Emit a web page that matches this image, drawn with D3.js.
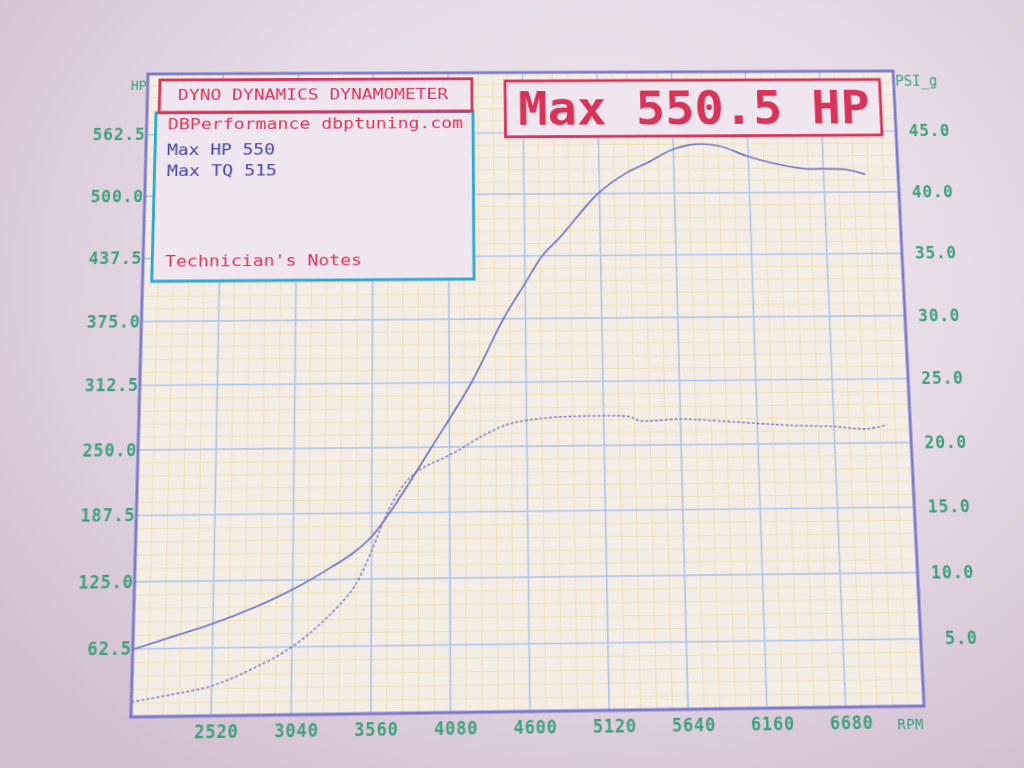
<!DOCTYPE html>
<html><head><meta charset="utf-8">
<script src="https://cdn.jsdelivr.net/npm/d3@7"></script>
<style>
html,body{margin:0;padding:0;width:1024px;height:768px;overflow:hidden;}
body{background: radial-gradient(ellipse 72% 78% at 58% 36%, #ede7f0 0%, #e6dbe6 50%, #d2c0d1 100%);}
#chart{position:absolute;left:0;top:0;transform-origin:0 0;filter:blur(0.5px);}
text{font-family:"DejaVu Sans Mono","Liberation Mono",monospace;}
</style></head><body>
<svg id="chart" width="1024" height="768"></svg>
<script>
// ---------------- data ----------------
const hpRpm    = [2000,2260,2520,2780,3040,3300,3440,3560,3680,3960,4230,4450,4600,4720,4850,5110,5300,5480,5640,5800,5960,6160,6330,6560,6680,6840,6970];
const hpValues = [62,73.5,85,99,116,137,150,165,187.5,250,312.5,375,410,437.5,457,500,520,533,545,550,548,537,530,524,524,523,518];
const boostRpm = [2000,2260,2520,2780,3040,3300,3450,3570,3640,3714,3808,3916,4030,4134,4233,4347,4470,4600,4750,5000,5300,5360,5640,5800,6160,6430,6680,6900,7040];
const boostPsi = [1.1,1.6,2.2,3.4,5.0,7.5,9.5,12.4,14.4,16.1,17.6,18.5,19.1,19.7,20.4,21.1,21.7,22.0,22.2,22.3,22.2,21.9,22.0,21.9,21.6,21.4,21.3,21.1,21.4];
const rpmTicks = [2520,3040,3560,4080,4600,5120,5640,6160,6680];
const hpTicks  = [62.5,125,187.5,250,312.5,375,437.5,500,562.5];
const psiTicks = [5,10,15,20,25,30,35,40,45];
const titleText = "DYNO DYNAMICS DYNAMOMETER";
const maxText = "Max 550.5 HP";
const infoLines = ["DBPerformance dbptuning.com","Max HP 550","Max TQ 515"];
const notesText = "Technician's Notes";

// ---------------- perspective (photo) ----------------
const X0=131, X1=924, Y0=72, Y1=717, W=X1-X0, H=Y1-Y0;
const quad=[[148,74],[893,71],[924,706],[131,717]];
function squareToQuad(q){
  const [x0,y0]=q[0],[x1,y1]=q[1],[x2,y2]=q[2],[x3,y3]=q[3];
  const dx1=x1-x2,dx2=x3-x2,dx3=x0-x1+x2-x3, dy1=y1-y2,dy2=y3-y2,dy3=y0-y1+y2-y3;
  const den=dx1*dy2-dx2*dy1, g=(dx3*dy2-dx2*dy3)/den, h=(dx1*dy3-dx3*dy1)/den;
  return [[x1-x0+g*x1,x3-x0+h*x3,x0],[y1-y0+g*y1,y3-y0+h*y3,y0],[g,h,1]];
}
function mul(A,B){return A.map((r,i)=>[0,1,2].map(j=>r[0]*B[0][j]+r[1]*B[1][j]+r[2]*B[2][j]));}
function inv(m){
  const [a,b,c]=m[0],[d,e,f]=m[1],[g,h,i]=m[2];
  const A=e*i-f*h,B=-(d*i-f*g),C=d*h-e*g, det=a*A+b*B+c*C;
  return [[A/det,-(b*i-c*h)/det,(b*f-c*e)/det],[B/det,(a*i-c*g)/det,-(a*f-c*d)/det],[C/det,-(a*h-b*g)/det,(a*e-b*d)/det]];
}
const M=mul(squareToQuad(quad),[[1/W,0,-X0/W],[0,1/H,-Y0/H],[0,0,1]]);
const Mi=inv(M);
function ap(m,x,y){const w=m[2][0]*x+m[2][1]*y+m[2][2];return [(m[0][0]*x+m[0][1]*y+m[0][2])/w,(m[1][0]*x+m[1][1]*y+m[1][2])/w];}
const P=(x,y)=>ap(Mi,x,y); // photo position -> flat drawing position
document.getElementById("chart").style.transform=
  `matrix3d(${M[0][0]},${M[1][0]},0,${M[2][0]},${M[0][1]},${M[1][1]},0,${M[2][1]},0,0,1,0,${M[0][2]},${M[1][2]},0,${M[2][2]})`;

// ---------------- chart ----------------
const svg=d3.select("#chart");
const x=d3.scaleLinear().domain([2000,7200]).range([X0,X1]);
const yHP=d3.scaleLinear().domain([0,625]).range([Y1,Y0]);
const yPsi=d3.scaleLinear().domain([0,50]).range([Y1,Y0]);

const green="#3f9f7d", red="#d8345a", blue="#4646a8", frame="#7c7acb", curveCol="#6f74c2";

svg.append("rect").attr("x",X0).attr("y",Y0).attr("width",W).attr("height",H).attr("fill","#f4ede6");
const minorX=d3.range(2000,7200.1,104), minorY=d3.range(0,625.1,12.5);
const g=svg.append("g");
g.selectAll(".mx").data(minorX).join("line").attr("x1",d=>x(d)).attr("x2",d=>x(d)).attr("y1",Y0).attr("y2",Y1)
  .attr("stroke","#efe0b4").attr("stroke-width",1);
g.selectAll(".my").data(minorY).join("line").attr("y1",d=>yHP(d)).attr("y2",d=>yHP(d)).attr("x1",X0).attr("x2",X1)
  .attr("stroke","#efe0b4").attr("stroke-width",1);
g.selectAll(".gx").data(rpmTicks).join("line").attr("x1",d=>x(d)).attr("x2",d=>x(d)).attr("y1",Y0).attr("y2",Y1)
  .attr("stroke","#adc5ee").attr("stroke-width",1.6);
g.selectAll(".gy").data(hpTicks).join("line").attr("y1",d=>yHP(d)).attr("y2",d=>yHP(d)).attr("x1",X0).attr("x2",X1)
  .attr("stroke","#adc5ee").attr("stroke-width",1.6);

// curves
svg.append("clipPath").attr("id","clip").append("rect").attr("x",X0).attr("y",Y0).attr("width",W).attr("height",H);
const hpData=hpRpm.map((r,i)=>[r,hpValues[i]]), boostData=boostRpm.map((r,i)=>[r,boostPsi[i]]);
svg.append("path").datum(boostData).attr("clip-path","url(#clip)")
  .attr("d",d3.line().x(d=>x(d[0])).y(d=>yPsi(d[1])).curve(d3.curveCatmullRom.alpha(0.5)))
  .attr("fill","none").attr("stroke",curveCol).attr("stroke-width",1.6).attr("stroke-dasharray","3,2").attr("opacity",0.85);
svg.append("path").datum(hpData).attr("clip-path","url(#clip)")
  .attr("d",d3.line().x(d=>x(d[0])).y(d=>yHP(d[1])).curve(d3.curveCatmullRom.alpha(0.5)))
  .attr("fill","none").attr("stroke",curveCol).attr("stroke-width",1.7);

// frame
svg.append("rect").attr("x",X0).attr("y",Y0).attr("width",W).attr("height",H).attr("fill","none")
  .attr("stroke",frame).attr("stroke-width",3);

// axes
function styleAxis(sel){sel.select(".domain").remove();sel.selectAll("line").remove();
  sel.selectAll("text").attr("fill",green).attr("font-size",17).attr("letter-spacing",0.8)
     .attr("font-weight","bold").attr("font-family","DejaVu Sans Mono, monospace");}
const axL=svg.append("g").attr("transform",`translate(${X0},0)`)
  .call(d3.axisLeft(yHP).tickValues(hpTicks).tickSize(0).tickPadding(1).tickFormat(d3.format(".1f")));
styleAxis(axL);
const axR=svg.append("g").attr("transform",`translate(${X1},0)`)
  .call(d3.axisRight(yPsi).tickValues(psiTicks).tickSize(0).tickFormat(d3.format(".1f")));
styleAxis(axR); axR.selectAll("text").attr("text-anchor","end").attr("x",58);
const axB=svg.append("g").attr("transform",`translate(0,${Y1})`)
  .call(d3.axisBottom(x).tickValues(rpmTicks).tickSize(0).tickPadding(9).tickFormat(d3.format("d")));
styleAxis(axB); axB.selectAll("text").attr("dx",5);

svg.append("text").attr("x",X0-1).attr("y",Y0+17).attr("text-anchor","end").attr("fill",green)
  .attr("font-size",14).text("HP");
svg.append("text").attr("x",X1+2).attr("y",Y0+16).attr("fill",green).attr("font-size",15).text("PSI_g");
svg.append("text").attr("x",X1-1).attr("y",Y1+22).attr("text-anchor","end").attr("fill",green)
  .attr("font-size",14).attr("letter-spacing",0.5).text("RPM");

// annotation boxes (positions)
function box(x0,y0,x1,y1,stroke){const a=P(x0,y0),b=P(x1,y1);
  svg.append("rect").attr("x",a[0]).attr("y",a[1]).attr("width",b[0]-a[0]).attr("height",b[1]-a[1])
    .attr("fill","#efe6ef").attr("stroke",stroke).attr("stroke-width",3);}
function label(t,x0,x1,yc,size,col,weight){const a=P(x0,yc),b=P(x1,yc);
  svg.append("text").attr("x",a[0]).attr("y",a[1]).attr("dominant-baseline","central").attr("fill",col)
    .attr("font-size",size).attr("font-weight",weight||"normal")
    .attr("textLength",b[0]-a[0]).attr("lengthAdjust","spacingAndGlyphs").text(t);}
box(156,113,474,279,"#2ea8d6");
box(160,80,472,111,red);
box(505,81,882,135,red);
label(titleText,178,448,95,16,red);
label(infoLines[0],168,463,124,16,red);
label(infoLines[1],167,275,150,15,blue);
label(infoLines[2],167,277,171,15,blue);
label(notesText,165,362,261,16,red);
label(maxText,518,870,108,50,red,"bold");
</script>
</body></html>
